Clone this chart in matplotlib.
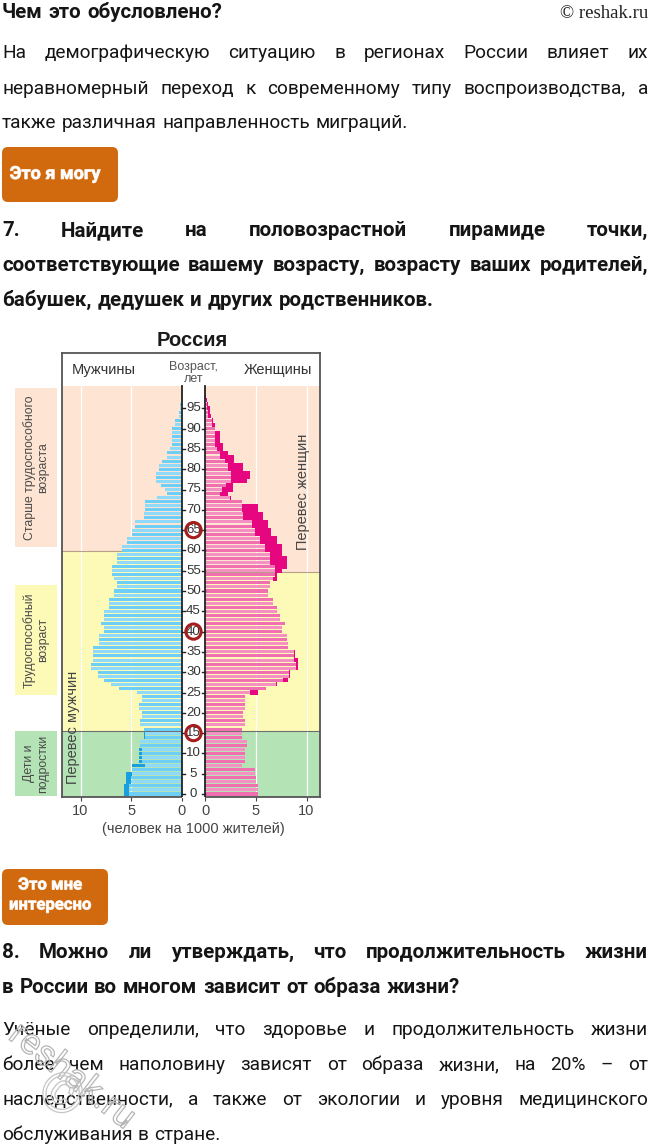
import matplotlib
matplotlib.use("Agg")
import matplotlib.pyplot as plt
import matplotlib.patheffects as pe
from matplotlib.patches import FancyBboxPatch, Rectangle
import numpy as np

# ---------------- data ----------------
ages_m = list(range(0, 98))
male = [5.7, 5.7, 5.7, 5.55, 5.55, 5.55, 4.9, 4.9, 4.25, 4.25,
        4.25, 4.25, 4.1, 4.1, 3.75, 3.75, 3.75, 4.1, 4.1, 3.9,
        3.9, 4.25, 4.25, 3.9, 3.9, 4.4, 6.2, 7.0, 7.7, 8.3,
        8.3, 9.0, 9.0, 8.8, 8.8, 8.8, 8.8, 8.2, 8.2, 8.2,
        7.7, 7.7, 8.0, 7.7, 7.7, 7.7, 7.2, 7.2, 7.2, 6.7,
        6.7, 6.4, 6.4, 6.7, 6.9, 6.9, 6.9, 6.4, 6.4, 6.4,
        5.9, 5.9, 5.4, 5.4, 4.9, 4.9, 4.6, 4.6, 3.75, 3.75,
        3.6, 3.6, 3.6, 2.45, 1.5, 1.65, 2.1, 2.6, 2.6, 2.6,
        2.3, 2.3, 2.0, 1.5, 1.5, 1.15, 1.0, 1.0, 1.0, 1.0,
        1.0, 0.65, 0.65, 0.3, 0.25, 0.2, 0.15, 0.1]
ages_f = list(range(0, 99))
female = [5.2, 5.2, 5.2, 5.05, 5.05, 4.9, 4.9, 3.6, 3.9, 3.9,
          3.9, 3.9, 4.1, 4.1, 3.6, 3.6, 3.6, 3.9, 3.9, 3.75,
          3.75, 3.9, 3.9, 3.9, 3.9, 5.2, 6.05, 7.05, 8.2, 8.4,
          8.4, 9.2, 9.2, 9.2, 8.85, 8.85, 8.2, 8.2, 8.05, 8.05,
          7.55, 7.55, 7.9, 7.4, 7.4, 7.05, 7.05, 6.7, 6.7, 6.2,
          6.2, 6.4, 6.4, 7.05, 7.05, 7.55, 8.05, 8.05, 8.05, 7.55,
          7.55, 7.55, 7.05, 7.05, 6.55, 6.55, 6.2, 6.2, 5.7, 5.7,
          5.2, 5.2, 3.6, 2.6, 2.25, 2.75, 2.75, 4.1, 4.4, 4.4,
          3.75, 3.75, 2.9, 2.9, 2.25, 1.8, 1.8, 1.45, 1.45, 1.45,
          0.95, 0.95, 0.75, 0.6, 0.5, 0.45, 0.3, 0.15, 0.08]
age_ticks = list(range(0, 100, 5))
marked_ages = [15, 40, 65]
value_ticks = [10, 5, 0]
male_excess_max_age = 15   # "Перевес мужчин" shown in the children band
bands_male = [(-0.74, 15.5, "#b4e3b6"), (15.5, 59.8, "#fdfab7"), (59.8, 100.5, "#fde4d3")]
bands_female = [(-0.74, 15.5, "#b4e3b6"), (15.5, 54.6, "#fdfab7"), (54.6, 100.5, "#fde4d3")]

para1 = ["На демографическую ситуацию в регионах России влияет их",
         "неравномерный переход к современному типу воспроизводства, а",
         "также различная направленность миграций."]
q7 = ["7. Найдите на половозрастной пирамиде точки,",
      "соответствующие вашему возрасту, возрасту ваших родителей,",
      "бабушек, дедушек и других родственников."]
q8 = ["8. Можно ли утверждать, что продолжительность жизни",
      "в России во многом зависит от образа жизни?"]
para2 = ["Учёные определили, что здоровье и продолжительность жизни",
         "более чем наполовину зависят от образа жизни, на 20% – от",
         "наследственности, а также от экологии и уровня медицинского",
         "обслуживания в стране."]

W, H = 650, 1144
FONT = ["Roboto", "DejaVu Sans"]
CFONT = ["Liberation Sans", "DejaVu Sans"]

fig = plt.figure(figsize=(W / 100, H / 100), dpi=100)
fig.patch.set_facecolor("white")

bg = fig.add_axes([0, 0, 1, 1])
bg.set_xlim(0, W)
bg.set_ylim(H, 0)
bg.axis("off")

renderer = fig.canvas.get_renderer()


def put_line(text, y, size, weight="normal", justify=True, x0=2, x1=648, color="#151515"):
    words = text.split(" ")
    objs = [bg.text(0, y, w, fontsize=size, fontweight=weight, family=FONT,
                    va="baseline", ha="left", color=color) for w in words]
    widths = [o.get_window_extent(renderer).width for o in objs]
    mingap = size * 100 / 72 * 0.28
    if justify and len(words) > 1:
        need = sum(widths) + mingap * (len(words) - 1)
        if need > (x1 - x0):
            k = (x1 - x0) / need
            for o in objs:
                o.set_fontsize(size * k)
            widths = [o.get_window_extent(renderer).width for o in objs]
        gap = (x1 - x0 - sum(widths)) / (len(words) - 1)
    else:
        gap = mingap
    x = x0
    for o, w in zip(objs, widths):
        o.set_x(x)
        x += w + gap


BODY = 13.7
BOLD = 14.8

# header
put_line("Чем это обусловлено?", 18, BOLD, weight="bold", justify=False)
bg.text(648, 18, "© reshak.ru", fontsize=13.5, family=["Liberation Serif", "DejaVu Serif"],
        ha="right", va="baseline", color="#222")

for i, (t, y) in enumerate(zip(para1, [58, 94, 128])):
    put_line(t, y, BODY, justify=(i < len(para1) - 1))


def badge(x0, y0, x1, y1, lines, ys, size):
    p = FancyBboxPatch((x0 + 6, y0 + 6), (x1 - x0) - 12, (y1 - y0) - 12,
                       boxstyle="round,pad=6", fc="#d16a0f", ec="#d16a0f", lw=0)
    bg.add_patch(p)
    for t, y in zip(lines, ys):
        bg.text((x0 + x1) / 2 - 5, y, t, fontsize=size, fontweight="bold", family=FONT,
                color="white", ha="center", va="center",
                path_effects=[pe.withStroke(linewidth=0.6, foreground="#f3d8c0")])


badge(2, 147, 118, 202, ["Это я могу"], [174], 13)

for i, (t, y) in enumerate(zip(q7, [236, 271, 306])):
    put_line(t, y, BOLD, weight="bold", justify=(i < len(q7) - 1))

badge(2, 869, 108, 925, ["Это мне", "интересно"], [885, 905], 12)

for i, (t, y) in enumerate(zip(q8, [958, 993])):
    put_line(t, y, BOLD, weight="bold", justify=(i < len(q8) - 1))

for i, (t, y) in enumerate(zip(para2, [1035, 1070, 1105, 1140])):
    put_line(t, y, BODY, justify=(i < len(para2) - 1))

# watermark
bg.text(72, 1076, "reshak.ru", fontsize=26, family=FONT, rotation=-38,
        ha="center", va="center", color=(1, 1, 1, 0),
        path_effects=[pe.Stroke(linewidth=0.9, foreground="#b5b5b5")])
bg.text(60, 1096, "©", fontsize=40, family=FONT, rotation=-38,
        ha="center", va="center", color=(1, 1, 1, 0),
        path_effects=[pe.Stroke(linewidth=0.9, foreground="#c5c5c5")])

# side labels
side = [(388, 547, "#fde4d3", "Старше трудоспособного\nвозраста"),
        (585, 695, "#fdfab7", "Трудоспособный\nвозраст"),
        (731, 796, "#b4e3b6", "Дети и\nподростки")]
for y0, y1, c, t in side:
    bg.add_patch(Rectangle((15, y0), 42, y1 - y0, fc=c, ec="none"))
    bg.text(36, (y0 + y1) / 2, t, rotation=90, fontsize=8.8, family=CFONT,
            ha="center", va="center", color="#4a4a4a", linespacing=1.15, multialignment="center")

bg.text(192, 341, "Россия", fontsize=14.5, fontweight="bold", family=CFONT,
        ha="center", va="center", color="#1a1a1a")
bg.text(193, 829, "(человек на 1000 жителей)", fontsize=10.5, family=CFONT,
        ha="center", va="center", color="#444")

# ---------------- pyramid ----------------
PXU = 10.15   # px per value unit
PXA = 4.06    # px per year
g = 11.5 / PXU
ax = fig.add_axes([62 / W, 1 - 797 / H, 258 / W, 444 / H])
ax.set_xlim((62 - 193.5) / PXU, (320 - 193.5) / PXU)
ax.set_ylim(-3 / PXA, (794 - 353) / PXA)
ax.set_facecolor("white")
top = 100.5
xl, xr = ax.get_xlim()

for y0, y1, c in bands_male:
    ax.fill_between([xl, -g], y0, y1, color=c, lw=0, zorder=0)
for y0, y1, c in bands_female:
    ax.fill_between([g, xr], y0, y1, color=c, lw=0, zorder=0)
ax.plot([xl, -g], [15.5, 15.5], color="#6f6f6f", lw=0.8, zorder=0.6)
ax.plot([g, xr], [15.5, 15.5], color="#6f6f6f", lw=0.8, zorder=0.6)
ax.plot([xl, -g], [59.8, 59.8], color="#b79f88", lw=0.8, zorder=0.6)
ax.plot([g, xr], [54.6, 54.6], color="#b79f88", lw=0.8, zorder=0.6)

for v in [5, 10]:
    ax.plot([-g - v, -g - v], [-1, top], color="white", lw=0.9, zorder=0.5)
    ax.plot([g + v, g + v], [-1, top], color="white", lw=0.9, zorder=0.5)

m = np.array(male)
f = np.array(female)
n = max(len(m), len(f))
mm = np.zeros(n); mm[:len(m)] = m
ff = np.zeros(n); ff[:len(f)] = f
ages = np.arange(n)
common = np.minimum(mm, ff)
mcols = ["#6dcff6" if a % 2 == 0 else "#8fdaf8" for a in ages]
fcols = ["#f06fb0" if a % 2 == 0 else "#f590c3" for a in ages]

mex = np.where(ages <= male_excess_max_age, np.clip(mm - ff, 0, None), 0)
mbase = mm - mex
fex = np.clip(ff - mm, 0, None)
ax.barh(ages, -mbase, left=-g, height=0.74, color=mcols, lw=0, zorder=2)
ax.barh(ages, common, left=g, height=0.74, color=fcols, lw=0, zorder=2)
ax.barh(ages, -mex, left=-g - mbase, height=0.9, color="#1a9fde", lw=0, zorder=2)
ax.barh(ages, fex, left=g + common, height=1.0, color="#e6067f", lw=0, zorder=2)

# center column
ax.fill_between([-g, g], -1, top, color="white", lw=0, zorder=3)
ax.plot([-g, -g], [-1, top], color="#222", lw=1.3, zorder=4)
ax.plot([g, g], [-1, top], color="#222", lw=1.3, zorder=4)
for a in age_ticks:
    ax.plot([-g, -g + 0.3], [a, a], color="#222", lw=1.0, zorder=4)
    ax.plot([g - 0.3, g], [a, a], color="#222", lw=1.0, zorder=4)
    ax.text(0, a, str(a), fontsize=9.5, family=CFONT, ha="center", va="center",
            color="#333", zorder=5)

ax.scatter([0] * len(marked_ages), marked_ages, s=120, facecolors="none",
           edgecolors="#a51d1d", linewidths=2.2, zorder=6)

# header inside frame
ax.text((104 - 193.5) / PXU, (794 - 370) / PXA, "Мужчины", fontsize=10.5, family=CFONT,
        ha="center", va="center", color="#333")
ax.text((278 - 193.5) / PXU, (794 - 370) / PXA, "Женщины", fontsize=10.5, family=CFONT,
        ha="center", va="center", color="#333")
ax.text(0, (794 - 373) / PXA, "Возраст,\nлет", fontsize=9, family=CFONT,
        ha="center", va="center", color="#555", linespacing=0.95)

ax.text((73 - 193.5) / PXU, (794 - 727) / PXA, "Перевес мужчин", rotation=90,
        fontsize=10.5, family=CFONT, ha="center", va="center", color="#444", zorder=5)
ax.text((303 - 193.5) / PXU, (794 - 492) / PXA, "Перевес женщин", rotation=90,
        fontsize=10.5, family=CFONT, ha="center", va="center", color="#444", zorder=5)

xt = [-g - v for v in value_ticks] + [g + v for v in value_ticks[::-1]]
xlabels = [str(v) for v in value_ticks] + [str(v) for v in value_ticks[::-1]]
ax.set_xticks(xt)
ax.set_xticklabels(xlabels, fontsize=10.5, family=CFONT, color="#444")
ax.tick_params(axis="x", length=3, width=0.8, color="#444", pad=2)
ax.set_yticks([])
for s in ax.spines.values():
    s.set_color("#555")
    s.set_linewidth(1.3)

fig.savefig("out.png", dpi=100, facecolor="white")
